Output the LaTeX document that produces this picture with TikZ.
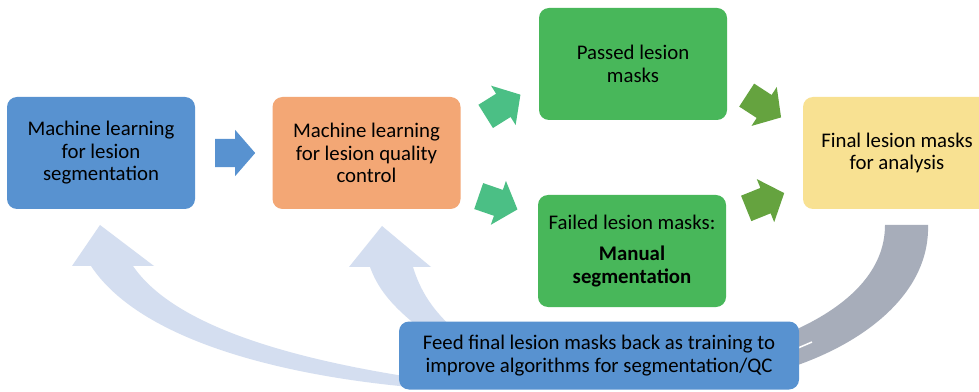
\documentclass[tikz,border=0pt]{standalone}
\usepackage{fontspec}
\setmainfont{Carlito}
\usetikzlibrary{shapes.arrows}
\definecolor{cblue}{HTML}{5892D0}
\definecolor{corange}{HTML}{F3A775}
\definecolor{cgreen}{HTML}{48B75A}
\definecolor{cyellow}{HTML}{F8E192}
\definecolor{cteal}{HTML}{4BBF85}
\definecolor{cdgreen}{HTML}{65A33F}
\definecolor{clight}{HTML}{D4DEF0}
\definecolor{cgrey}{HTML}{A7ADBA}
\tikzset{
  box/.style={rounded corners=10pt, minimum width=188pt, minimum height=112pt, inner sep=0pt, align=center, text=black, font=\fontsize{20.8}{22.5}\selectfont},
  blockarr/.style={single arrow, anchor=tail, minimum height=41pt, minimum width=46pt, single arrow head extend=9.5pt, single arrow tip angle=98, inner xsep=0pt, inner ysep=13.5pt, draw=none}
}
\begin{document}
\begin{tikzpicture}[x=1pt,y=1pt]
\clip (0,0) rectangle (979,391);
\fill[white] (0,0) rectangle (979,391);
% curved feedback arrows
\fill[clight] (91,125) -- (72,125) -- (100,166) -- (154,125) -- (133,125)
  .. controls (170,71) and (270,36) .. (410,14) -- (410,4)
  .. controls (280,16) and (140,51) .. (91,125) -- cycle;
\fill[clight] (370,124) -- (349,124) -- (382,165) -- (431,124) -- (413,124)
  .. controls (420,101) and (432,81) .. (456,60) -- (423,60)
  .. controls (400,79) and (380,96) .. (370,124) -- cycle;
\fill[cgrey] (885,166) -- (928,166) .. controls (930,101) and (870,51) .. (795,25)
  -- (795,61) .. controls (850,86) and (885,121) .. (885,166) -- cycle;
\draw[white, line width=1.5pt] (798,43) -- (812,49);
% boxes
\node[box, fill=cblue] (seg) at (101,238) {Machine learning\\for lesion\\segmentation};
\node[box, fill=corange] (qc) at (366.5,238) {Machine learning\\for lesion quality\\control};
\node[box, fill=cgreen] (pass) at (633,327) {Passed lesion\\masks};
\node[box, fill=cgreen] (fail) at (632,140) {Failed lesion masks:\\[9pt]\textbf{Manual}\\\textbf{segmentation}};
\node[box, fill=cyellow] (final) at (897,238) {Final lesion masks\\for analysis};
\node[box, fill=cblue, minimum width=400pt, minimum height=68pt] (feed) at (599,35.5) {Feed final lesion masks back as training to\\improve algorithms for segmentation/QC};
% block arrows
\node[blockarr, fill=cblue, minimum height=40pt, inner ysep=14pt, single arrow head extend=9pt] (a0) at (215,238) {};
\node[blockarr, fill=cteal, rotate=32] (a1) at (485.5,274.5) {};
\node[blockarr, fill=cteal, rotate=-19] (a2) at (478.5,195) {};
\node[blockarr, fill=cdgreen, rotate=-33] (a3) at (746.5,296) {};
\node[blockarr, fill=cdgreen, rotate=22] (a4) at (746,182.5) {};
\end{tikzpicture}
\end{document}
